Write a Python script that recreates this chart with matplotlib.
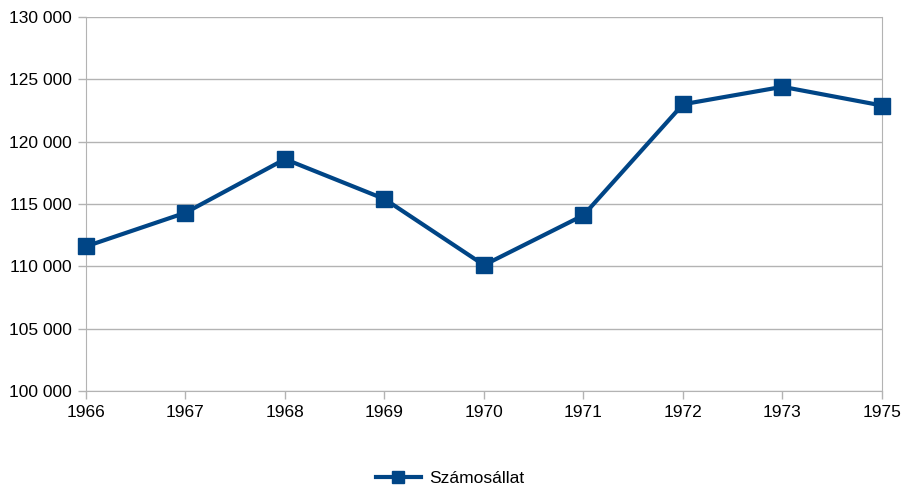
import matplotlib.pyplot as plt
from matplotlib.ticker import FuncFormatter

years = ['1966', '1967', '1968', '1969', '1970', '1971', '1972', '1973', '1975']
szamosallat = [111600, 114300, 118600, 115400, 110100, 114100, 123000, 124400, 122900]
series_name = 'Számosállat'

plt.rcParams['font.family'] = ['Liberation Sans', 'DejaVu Sans']
plt.rcParams['font.size'] = 12.5

W, H = 903, 487
fig = plt.figure(figsize=(W / 100, H / 100), dpi=100)
ax = fig.add_axes([86 / W, 1 - 391 / H, (882 - 86) / W, (391 - 17) / H])

x = list(range(len(years)))
ax.plot(x, szamosallat, color='#004586', linewidth=3, marker='s',
        markersize=11, label=series_name, clip_on=False, zorder=5)

ax.set_xlim(0, len(years) - 1)
ax.set_ylim(100000, 130000)
ax.set_xticks(x)
ax.set_xticklabels(years)
ax.set_yticks(range(100000, 130001, 5000))
ax.yaxis.set_major_formatter(FuncFormatter(lambda v, p: f'{int(v):,}'.replace(',', ' ')))

# only horizontal grid lines
ax.grid(True, axis='y', color='#b3b3b3', linewidth=1)
ax.set_axisbelow(True)
ax.spines['top'].set_visible(False)
for s in ['left', 'right', 'bottom']:
    ax.spines[s].set_color('#b3b3b3')
ax.tick_params(color='#b3b3b3', length=6, width=1, labelcolor='black')
ax.tick_params(axis='y', pad=4)
ax.tick_params(axis='x', pad=4)

fig.legend(loc='center', bbox_to_anchor=(450 / W, 1 - 478 / H), frameon=False,
           handlelength=2.6, handletextpad=0.5, markerscale=0.75)

fig.savefig('out.png', dpi=100)
